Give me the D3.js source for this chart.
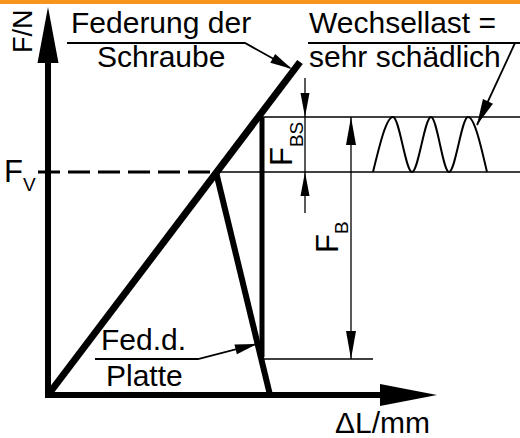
<!DOCTYPE html>
<html>
<head>
<meta charset="utf-8">
<script src="https://cdn.jsdelivr.net/npm/d3@7"></script>
<style>
  body { margin: 0; background: #fff; }
  svg { display: block; }
  text { font-family: "Liberation Sans", Arial, sans-serif; fill: #000; }
</style>
</head>
<body>
<div id="chart"></div>
<script>
// diagram values (x in length units, y in force units)
var schraubeLine = [[0, 0], [63, 83.25]];
var platteLine = [[42, 55.75], [55.5, 0]];
var betriebLine = [[53.5, 69.5], [53.5, 9.5]];
var levelFV = 55.75;
var levelTop = 69.5;
var levelFB = 9;
var wavePoints = [[81.25, 55.75], [86.25, 69.5], [91, 55.75], [95.75, 69.5],
                  [100.25, 55.75], [105, 69.5], [109.75, 55.75]];
var dimFBSx = 64.25;
var dimFBx = 75.75;

var width = 520, height = 438;

var svg = d3.select("#chart").append("svg")
    .attr("width", width)
    .attr("height", height);

var x = d3.scaleLinear().domain([0, 100]).range([48, 448]);
var y = d3.scaleLinear().domain([0, 100]).range([395, -5]);

var line = d3.line()
    .x(function(d){ return x(d[0]); })
    .y(function(d){ return y(d[1]); });

// orange strip at top
svg.append("rect")
    .attr("x", 0).attr("y", 0)
    .attr("width", width).attr("height", 4)
    .attr("fill", "#f7941d");

function arrowHead(tip, from, len, w){
  var dx = tip[0] - from[0], dy = tip[1] - from[1];
  var l = Math.sqrt(dx*dx + dy*dy);
  var ux = dx / l, uy = dy / l;
  var bx = tip[0] - ux*len, by = tip[1] - uy*len;
  var pts = [tip, [bx - uy*w/2, by + ux*w/2], [bx + uy*w/2, by - ux*w/2]];
  svg.append("polygon")
      .attr("points", pts.map(function(p){ return p.join(","); }).join(" "))
      .attr("fill", "#000");
}

function thin(x1, y1, x2, y2, w){
  svg.append("line")
      .attr("x1", x1).attr("y1", y1)
      .attr("x2", x2).attr("y2", y2)
      .attr("stroke", "#000")
      .attr("stroke-width", w || 1.3);
}

// thin level lines
thin(x(42), y(levelFV), width, y(levelFV));
thin(x(53.5), y(levelTop), width, y(levelTop));
thin(x(53.5), y(levelFB), x(81.25), y(levelFB));

// F_V dashed line
svg.append("line")
    .attr("x1", 38).attr("y1", y(levelFV))
    .attr("x2", x(42)).attr("y2", y(levelFV))
    .attr("stroke", "#000")
    .attr("stroke-width", 3)
    .attr("stroke-dasharray", "22,8");

// axes
thin(x(0), y(0), x(0), 40, 6);
arrowHead([x(0), 7], [x(0), 100], 56, 21);
thin(x(0) - 3, y(0), 390, y(0), 6);
arrowHead([437, y(0)], [300, y(0)], 57, 22);

// Federung der Schraube
svg.append("path")
    .attr("d", line(schraubeLine))
    .attr("fill", "none")
    .attr("stroke", "#000")
    .attr("stroke-width", 7)
    .attr("stroke-linecap", "butt");

// Federung der Platte
svg.append("path")
    .attr("d", line(platteLine))
    .attr("fill", "none")
    .attr("stroke", "#000")
    .attr("stroke-width", 6);

svg.append("path")
    .attr("d", line(betriebLine))
    .attr("fill", "none")
    .attr("stroke", "#000")
    .attr("stroke-width", 5);

// Wechsellast wave
svg.append("path")
    .attr("d", d3.line()
        .x(function(d){ return x(d[0]); })
        .y(function(d){ return y(d[1]); })
        .curve(d3.curveMonotoneX)(wavePoints))
    .attr("fill", "none")
    .attr("stroke", "#000")
    .attr("stroke-width", 2);

// F_BS dimension
thin(x(dimFBSx), 78, x(dimFBSx), 213);
arrowHead([x(dimFBSx), y(levelTop)], [x(dimFBSx), 60], 24, 9);
arrowHead([x(dimFBSx), y(levelFV)], [x(dimFBSx), 230], 24, 9);

// F_B dimension
thin(x(dimFBx), y(levelTop), x(dimFBx), y(levelFB));
arrowHead([x(dimFBx), y(levelTop)], [x(dimFBx), 300], 28, 10);
arrowHead([x(dimFBx), y(levelFB)], [x(dimFBx), 200], 28, 10);

// leaders
svg.append("polyline")
    .attr("points", "67,43 245,43 290,68")
    .attr("fill", "none").attr("stroke", "#000").attr("stroke-width", 1.8);
arrowHead([292, 69], [245, 43], 22, 10);

svg.append("polyline")
    .attr("points", "308,43 520,43")
    .attr("fill", "none").attr("stroke", "#000").attr("stroke-width", 1.8);
svg.append("line")
    .attr("x1", 515).attr("y1", 43).attr("x2", 477).attr("y2", 125)
    .attr("stroke", "#000").attr("stroke-width", 1.8);
arrowHead([477, 125], [515, 43], 26, 11);

svg.append("polyline")
    .attr("points", "95,359 198,359 256,344")
    .attr("fill", "none").attr("stroke", "#000").attr("stroke-width", 1.8);
arrowHead([257, 344], [198, 359], 22, 10);

// labels
var fs = 30;
function label(t, x0, y0, size){
  return svg.append("text")
      .attr("x", x0).attr("y", y0)
      .style("font-size", (size || fs) + "px")
      .text(t);
}
label("Federung der", 71, 33);
label("Schraube", 97, 67);
label("Wechsellast =", 309, 33);
label("sehr schädlich", 309, 67);
label("Fed.d.", 101, 350);
label("Platte", 106, 386);
label("ΔL/mm", 335, 433);

svg.append("text")
    .attr("transform", "translate(32,53) rotate(-90)")
    .style("font-size", "27px")
    .text("F/N");

var fv = svg.append("text").attr("x", 4).attr("y", 182).style("font-size", "31px");
fv.append("tspan").text("F");
fv.append("tspan").attr("dy", 9).style("font-size", "19px").text("V");

var fbs = svg.append("text")
    .attr("transform", "translate(292,166) rotate(-90)")
    .style("font-size", "31px");
fbs.append("tspan").text("F");
fbs.append("tspan").attr("dy", 11).style("font-size", "19px").text("BS");

var fb = svg.append("text")
    .attr("transform", "translate(338,253) rotate(-90)")
    .style("font-size", "31px");
fb.append("tspan").text("F");
fb.append("tspan").attr("dy", 10).style("font-size", "19px").text("B");
</script>
</body>
</html>
